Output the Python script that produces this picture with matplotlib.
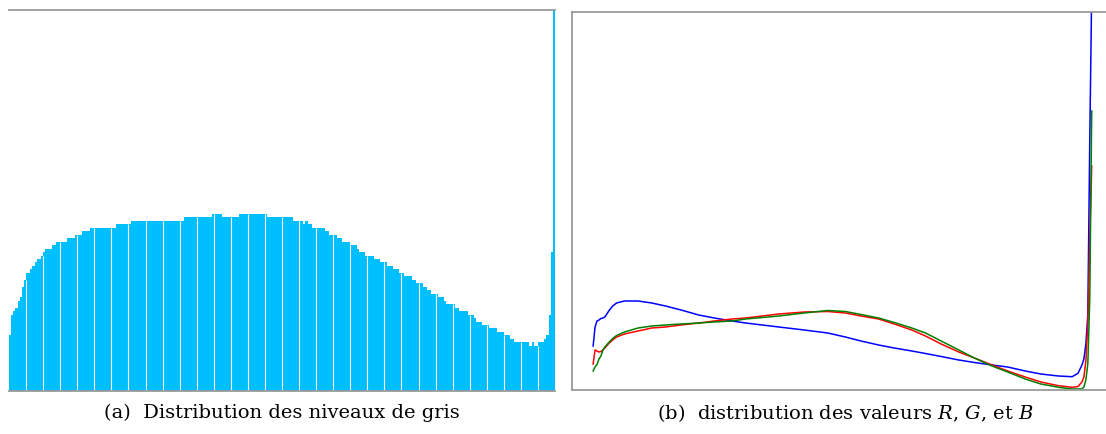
import numpy as np
import matplotlib
matplotlib.use('Agg')
import matplotlib.pyplot as plt

# grey-level histogram, read as runs of equal-height bins (256 bins)
hist_levels = [56, 76, 80, 83, 90, 94, 104, 111, 118, 122, 125, 129, 132, 135, 139,
               142, 146, 149, 153, 156, 160, 163, 167, 170, 174, 177, 174, 177, 174,
               170, 167, 170, 167, 163, 160, 156, 153, 149, 146, 142, 139, 135, 132,
               129, 125, 122, 118, 115, 111, 108, 104, 101, 97, 94, 90, 87, 83, 80,
               76, 73, 69, 66, 63, 59, 56, 52, 49, 45, 49, 45, 49, 52, 56, 76, 139, 381]
hist_runs = [1, 1, 1, 1, 1, 1, 1, 1, 2, 1, 1, 1, 2, 1, 1,
             3, 2, 5, 4, 3, 4, 12, 7, 25, 13, 5, 8, 13, 12,
             5, 1, 1, 2, 6, 2, 4, 2, 4, 3, 1, 3, 4, 3,
             3, 3, 3, 2, 4, 2, 3, 2, 2, 3, 3, 1, 4, 2, 4,
             3, 1, 3, 3, 4, 3, 3, 2, 7, 1, 1, 2, 3, 1, 1, 1, 1, 1]

# R, G, B distributions
levels = [0, 1, 2, 3, 4, 5, 6, 8, 10, 12, 16, 23, 30, 37, 45, 54, 62, 71, 78, 95,
          108, 120, 129, 137, 146, 154, 163, 170, 178, 187, 195, 204, 212, 221, 229,
          238, 245, 248, 250, 251, 252, 253, 254, 255]
blue = [44, 63, 69, 70, 71.5, 72, 73, 79, 84, 87, 89, 89, 87, 84, 80, 75, 72, 69, 67, 63,
        60, 57, 53, 49, 45, 42, 39, 36.5, 33.5, 30, 27.5, 25, 23, 19, 16,
        14, 13.3, 16.7, 25, 31, 46, 75, 250, 400]
red = [26, 40, 39, 38, 38.5, 40, 42, 46.5, 50, 53, 56, 59, 62, 63, 65, 67, 69, 71, 72, 76,
       78, 78.5, 77, 74, 71, 66, 60, 54, 46, 38, 32, 25, 19, 13, 8,
       4.3, 2.7, 3.5, 8, 13, 29, 66, 150, 224]
green = [19, 23, 25.5, 31, 34, 40, 43, 47.5, 51.5, 54.5, 58, 62, 64, 65, 66, 67, 68, 69, 71, 74,
         77, 79.5, 78.5, 75.5, 72, 67.5, 62, 57, 49, 40, 32, 24, 18, 11, 6,
         2.7, 1, 1, 1, 3, 10, 26, 91, 279]

captions = ['(a)  Distribution des niveaux de gris',
            '(b)  distribution des valeurs $R$, $G$, et $B$']

plt.rcParams['font.family'] = 'DejaVu Serif'
plt.rcParams['mathtext.fontset'] = 'dejavuserif'

fig = plt.figure(figsize=(11.06, 4.35), dpi=100)
spine_col = '#9a9a9a'

# left panel: histogram
ax1 = fig.add_axes([9 / 1106, 43 / 435, 546 / 1106, 381 / 435])
counts = np.repeat(hist_levels, hist_runs)
ax1.bar(np.arange(len(counts)), counts, width=1.0, align='edge',
        color='#00bfff', linewidth=0)
# thin white separators every 8 bins, as in the original rendering
sep = np.arange(8, len(counts) - 1, 8)
ax1.vlines(sep, 0, np.minimum(counts[sep - 1], counts[sep]), color='white', lw=0.8)
ax1.set_xlim(0, len(counts))
ax1.set_ylim(0, 381)
ax1.set_xticks([])
ax1.set_yticks([])
for s in ['left', 'right']:
    ax1.spines[s].set_visible(False)
for s in ['top', 'bottom']:
    ax1.spines[s].set_color(spine_col)
    ax1.spines[s].set_linewidth(1.3)

# right panel: RGB curves
ax2 = fig.add_axes([572 / 1106, 44 / 435, 534 / 1106, 378 / 435])
ax2.plot(levels, blue, color='#0000ff', lw=1.1)
ax2.plot(levels, red, color='#ff0000', lw=1.1)
ax2.plot(levels, green, color='#008000', lw=1.1)
ax2.set_xlim(-10.8, 262.3)
ax2.set_ylim(0, 378)
ax2.set_xticks([])
ax2.set_yticks([])
ax2.spines['right'].set_visible(False)
for s in ['left', 'top', 'bottom']:
    ax2.spines[s].set_color(spine_col)
    ax2.spines[s].set_linewidth(1.3)

fig.text(282 / 1106, 1 - 413 / 435, captions[0], ha='center', va='center', fontsize=14)
fig.text(845 / 1106, 1 - 413 / 435, captions[1], ha='center', va='center', fontsize=14)

fig.savefig('out.png', dpi=100)
